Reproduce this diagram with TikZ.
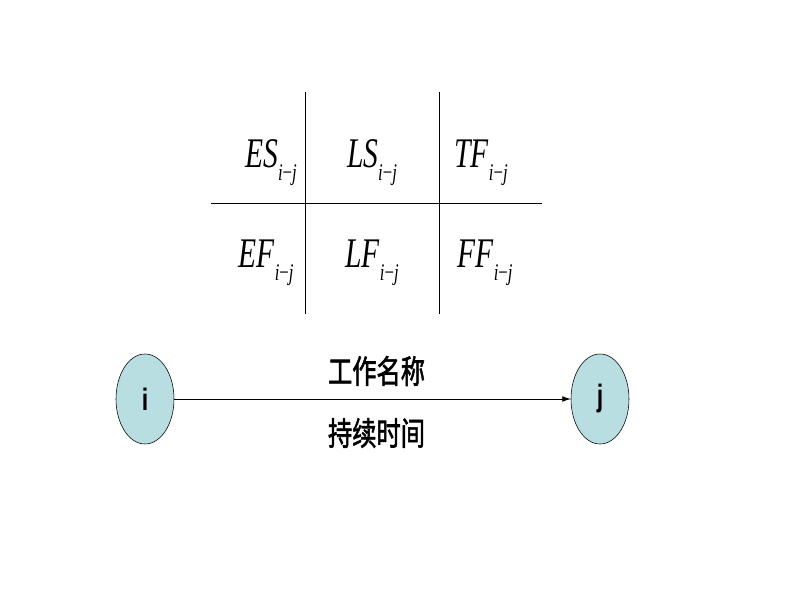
\documentclass[tikz,border=0pt]{standalone}
\usepackage{graphicx}
\usepackage{fontspec}
\setmainfont{Liberation Serif}
\setsansfont{Liberation Sans}[BoldFont={Liberation Sans Bold}]
\newfontfamily\cjk[FakeBold=2]{Noto Sans CJK SC}
\usetikzlibrary{shapes.geometric,arrows.meta}
\definecolor{eventblue}{HTML}{B8DEE2}
\tikzset{
  event/.style={ellipse, draw, fill=eventblue, minimum width=1.45cm, minimum height=2.25cm, inner sep=0pt, font=\sffamily\bfseries\fontsize{22}{22}\selectfont},
  cell/.style={anchor=base, inner sep=0pt, font=\fontsize{30}{30}\selectfont},
  task/.style={font=\cjk\fontsize{23}{23}\selectfont}
}
\newcommand{\tm}[1]{\scalebox{0.7}[1]{\textit{#1}\raisebox{-9pt}{\fontsize{17}{17}\selectfont\textit{i}−\textit{j}}}}
\newcommand{\sq}[1]{\scalebox{0.75}[1]{#1}}
\begin{document}
\begin{tikzpicture}
\useasboundingbox (0,0) rectangle (20,15);
% time parameter grid
\draw (7.625,12.7) -- (7.625,7.15);
\draw (10.975,12.7) -- (10.975,7.15);
\draw (5.275,9.925) -- (13.55,9.925);
\node [cell] (es) at (6.775,10.8) {\tm{ES}};
\node [cell] (ls) at (9.3,10.8) {\tm{LS}};
\node [cell] (tf) at (12.025,10.8) {\tm{TF}};
\node [cell] (ef) at (6.65,8.3) {\tm{EF}};
\node [cell] (lf) at (9.3,8.3) {\tm{LF}};
\node [cell] (ff) at (12.125,8.3) {\tm{FF}};
% activity arrow
\node [event] (i) at (3.625,5.025) {\sq{i}};
\node [event] (j) at (15.0,5.025) {\sq{j}};
\draw [-{Latex[length=6pt,width=4pt]}] (i) -- (j)
  node [task, midway, yshift=0.7cm, xshift=0.1cm] (name) {\sq{工作名称}}
  node [task, midway, yshift=-0.85cm, xshift=0.1cm] (dur) {\sq{持续时间}};
\end{tikzpicture}
\end{document}
